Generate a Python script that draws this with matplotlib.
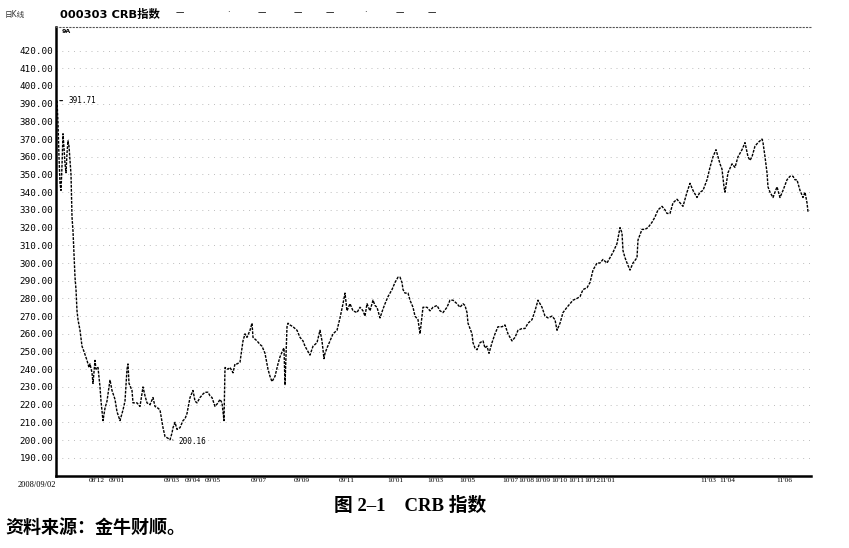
import matplotlib
matplotlib.use('Agg')
import matplotlib.pyplot as plt
import matplotlib.transforms as mtransforms

plt.rcParams['font.family'] = ['DejaVu Sans', 'Noto Sans CJK SC']

# trading-day offset from 2008/09/02 and CRB index close
days = [0, 1, 2, 3, 4, 5, 6, 7, 8, 9,
        10, 11, 12, 13, 14, 15, 16, 17, 18, 19,
        20, 21, 23, 25, 27, 30, 32, 33, 35, 36,
        38, 39, 41, 43, 44, 46, 48, 50, 53, 55,
        58, 60, 63, 66, 68, 70, 71, 72, 75, 76,
        80, 83, 86, 88, 90, 93, 96, 98, 101, 103,
        106, 108, 111, 113, 115, 116, 118, 120, 123, 126,
        128, 130, 133, 136, 138, 140, 143, 146, 148, 151,
        153, 155, 158, 161, 163, 165, 167, 168, 171, 173,
        176, 178, 180, 183, 186, 188, 190, 193, 195, 196,
        198, 200, 203, 205, 208, 211, 213, 215, 218, 221,
        223, 226, 227, 228, 230, 231, 233, 236, 240, 243,
        246, 248, 250, 253, 256, 260, 263, 265, 267, 268,
        270, 273, 276, 280, 283, 286, 288, 290, 293, 296,
        300, 303, 306, 308, 310, 313, 316, 318, 320, 323,
        326, 328, 331, 335, 338, 341, 343, 345, 346, 348,
        351, 353, 356, 358, 361, 363, 365, 366, 370, 373,
        376, 380, 383, 386, 390, 393, 396, 400, 403, 406,
        408, 410, 411, 413, 415, 416, 418, 420, 423, 426,
        428, 430, 432, 435, 438, 441, 445, 448, 451, 453,
        455, 458, 461, 465, 468, 471, 475, 478, 481, 483,
        485, 488, 491, 495, 498, 500, 503, 506, 510, 513,
        516, 520, 523, 526, 530, 533, 536, 540, 543, 546,
        550, 553, 556, 560, 563, 565, 566, 568, 570, 573,
        576, 580, 581, 583, 585, 588, 591, 595, 598, 601,
        605, 608, 610, 613, 616, 620, 623, 626, 630, 633,
        636, 640, 643, 646, 650, 653, 656, 659, 661, 663,
        665, 667, 668, 671, 675, 678, 681, 685, 688, 691,
        693, 695, 698, 701, 705, 706, 708, 710, 711, 713,
        716, 718, 720, 723, 726, 730, 733, 736, 738, 740,
        743, 746, 748, 750, 751]
crb = [391.71, 379, 360, 345, 341, 355, 373, 365, 356, 351,
       362, 369, 366, 358, 350, 326, 318, 305, 292, 285,
       273, 268, 262, 253, 250, 245, 241, 243, 238, 232,
       245, 240, 241, 230, 222, 211, 218, 222, 234, 228,
       223, 216, 211, 217, 222, 240, 243, 232, 228, 221,
       221, 219, 230, 225, 221, 220, 224, 219, 218, 217,
       207, 202, 201, 200.16, 204, 207, 210, 206, 207, 211,
       212, 215, 224, 228, 222, 221, 224, 226, 227, 227,
       225, 224, 219, 221, 223, 221, 211, 241, 240, 241,
       238, 243, 243, 244, 256, 260, 258, 262, 266, 258,
       257, 256, 254, 253, 249, 240, 236, 233, 236, 243,
       247, 251, 252, 231, 264, 266, 265, 264, 262, 258,
       256, 253, 251, 248, 253, 255, 262, 256, 246, 249,
       252, 256, 260, 262, 269, 277, 283, 273, 277, 273,
       272, 275, 273, 270, 277, 273, 279, 276, 275, 269,
       274, 277, 281, 285, 289, 292, 292, 289, 285, 283,
       283, 279, 275, 270, 268, 260, 270, 275, 275, 273,
       275, 276, 273, 272, 275, 279, 279, 277, 275, 277,
       276, 272, 266, 263, 260, 255, 252, 251, 255, 256,
       252, 253, 249, 255, 260, 264, 264, 265, 260, 258,
       256, 258, 262, 263, 263, 266, 268, 273, 279, 277,
       275, 270, 269, 270, 268, 262, 266, 272, 275, 277,
       279, 280, 281, 285, 286, 289, 296, 300, 300, 302,
       300, 303, 306, 311, 320, 317, 307, 303, 300, 296,
       300, 303, 313, 316, 319, 319, 320, 323, 326, 330,
       332, 330, 328, 328, 334, 336, 334, 332, 340, 345,
       341, 337, 340, 341, 347, 354, 360, 364, 360, 356,
       353, 343, 340, 351, 356, 354, 360, 364, 368, 360,
       358, 360, 366, 368, 370, 368, 360, 351, 343, 340,
       337, 340, 343, 337, 341, 347, 349, 349, 347, 347,
       341, 337, 340, 334, 329]

y_ticks = [190, 200, 210, 220, 230, 240, 250, 260, 270, 280, 290, 300, 310,
           320, 330, 340, 350, 360, 370, 380, 390, 400, 410, 420]
x_tick_days = [40, 60, 115, 136, 156, 202, 245, 290, 338, 378, 410, 453, 469,
               485, 502, 519, 535, 550, 651, 670, 727]
x_tick_labels = ["08'12", "09'01", "09'03", "09'04", "09'05", "09'07", "09'09",
                 "09'11", "10'01", "10'03", "10'05", "10'07", "10'08", "10'09",
                 "10'10", "10'11", "10'12", "11'01", "11'03", "11'04", "11'06"]
header_dashes = [180, 228, 262, 298, 330, 365, 400, 432]

fig = plt.figure(figsize=(8.49, 5.48), dpi=100)
ax = fig.add_axes([56 / 849, 1 - 476 / 548, 755 / 849, 449 / 548])

ax.plot(days, crb, color='black', lw=1.0, linestyle=(0, (2, 0.9)))

ax.set_xlim(-1, 754)
ax.set_ylim(179.7, 433.3)

ax.set_yticks(y_ticks)
ax.set_yticklabels([f'{v:.2f}' for v in y_ticks], family='DejaVu Sans Mono',
                   fontsize=6.7)
ax.set_xticks(x_tick_days)
ax.set_xticklabels(x_tick_labels, fontsize=5.3, family='Liberation Serif')
ax.tick_params(axis='both', length=0, pad=2)
ax.tick_params(axis='x', pad=1.5)

ax.grid(axis='y', color='#bdbdbd', linestyle=(0, (1, 5)), lw=0.7)
ax.grid(axis='x', visible=False)

for side in ['left', 'bottom']:
    ax.spines[side].set_linewidth(1.8)
ax.spines['right'].set_visible(False)
ax.spines['top'].set_linestyle((0, (1, 2)))
ax.spines['top'].set_color('#555555')
ax.spines['top'].set_linewidth(0.8)

# start date under the origin
blend = mtransforms.blended_transform_factory(ax.transData, ax.transAxes)
ax.text(-1, -0.012, '2008/09/02', transform=blend, ha='right', va='top',
        fontsize=6, family='Liberation Serif')

# max / min markers
i_max = crb.index(max(crb))
i_min = crb.index(min(crb))
ax.annotate(f'{max(crb):.2f}', xy=(days[i_max], max(crb)), xytext=(8, 0),
            textcoords='offset points', fontsize=5.5, va='center', ha='left',
            family='DejaVu Sans Mono',
            arrowprops=dict(arrowstyle='-', lw=0.8, color='black'))
ax.annotate(f'{min(crb):.2f}', xy=(days[i_min], min(crb)), xytext=(6, -1),
            textcoords='offset points', fontsize=5.5, va='center', ha='left',
            family='DejaVu Sans Mono',
            arrowprops=dict(arrowstyle='-', lw=0.8, color='black'))
ax.text(0.008, 0.995, '9A', transform=ax.transAxes, fontsize=4.5,
        va='top', ha='left', fontweight='bold')

# header line
fig.text(5 / 849, 1 - 14 / 548, '日K线', fontsize=5.5, va='center', color='#333333')
fig.text(60 / 849, 1 - 14 / 548, '000303 CRB指数', fontsize=8.2,
         fontweight='bold', va='center', family=['DejaVu Sans', 'Noto Sans CJK SC'])
for i, hx in enumerate(header_dashes):
    fig.text(hx / 849, 1 - 13 / 548, '—' if i % 4 != 1 else '·', fontsize=6,
             ha='center', va='center')

# caption
fig.text(410 / 849, 1 - 506 / 548, '图 2–1    CRB 指数', fontsize=13.5,
         fontweight='bold', ha='center', va='center',
         family=['Liberation Serif', 'Noto Sans CJK SC'])
fig.text(5 / 849, 1 - 527 / 548, '资料来源：金牛财顺。', fontsize=13,
         fontweight='bold', ha='left', va='center',
         family=['Noto Sans CJK SC', 'DejaVu Sans'])

fig.savefig('out.png', dpi=100)
